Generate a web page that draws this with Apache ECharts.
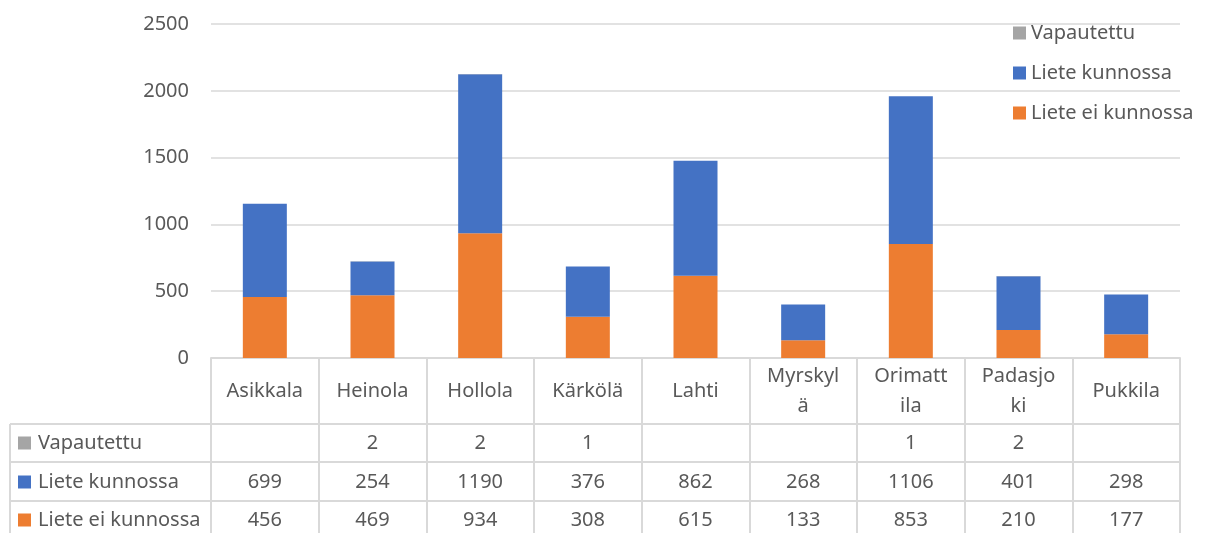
<!DOCTYPE html>
<html>
<head>
<meta charset="utf-8">
<script src="https://cdn.jsdelivr.net/npm/echarts@6/dist/echarts.min.js"></script>
<style>
  html, body { margin: 0; padding: 0; background: #fff; }
  #chart { width: 1211px; height: 533px; }
</style>
</head>
<body>
<div id="chart"></div>
<script>
const cats = ['Asikkala', 'Heinola', 'Hollola', 'Kärkölä', 'Lahti', 'Myrskylä', 'Orimattila', 'Padasjoki', 'Pukkila'];
// otsikkorivin rivitys kuten Excelissä
const headerLabels = ['Asikkala', 'Heinola', 'Hollola', 'Kärkölä', 'Lahti', 'Myrskyl\nä', 'Orimatt\nila', 'Padasjo\nki', 'Pukkila'];
const vapautettu = [null, 2, 2, 1, null, null, 1, 2, null];
const kunnossa = [699, 254, 1190, 376, 862, 268, 1106, 401, 298];
const eiKunnossa = [456, 469, 934, 308, 615, 133, 853, 210, 177];
const yTicks = [0, 500, 1000, 1500, 2000, 2500];

const textColor = '#595959';
const lineColor = '#D9D9D9';
const fontFamily = '"Noto Sans", "Open Sans", sans-serif';

// taulukon rivit ylhäältä alas
const tableRows = [
    { name: 'Vapautettu', color: '#A5A5A5', data: vapautettu },
    { name: 'Liete kunnossa', color: '#4472C4', data: kunnossa },
    { name: 'Liete ei kunnossa', color: '#ED7D31', data: eiKunnossa }
];

const gridLeft = 211, gridRight = 31, gridTop = 24, gridBottom = 175;
const rowLines = [424, 462, 501];   // taulukon vaakaviivat
const rowCenters = [443, 482, 520];
const tableLeft = 10;

let myChart = echarts.init(document.getElementById('chart'));

const option = {
    backgroundColor: '#fff',
    animation: false,
    textStyle: { fontFamily: fontFamily, color: textColor },
    grid: { left: gridLeft, right: gridRight, top: gridTop, bottom: gridBottom },
    legend: {
        data: tableRows.map(r => r.name),
        orient: 'vertical',
        left: 1013,
        top: 23,
        padding: 0,
        itemWidth: 13,
        itemHeight: 13,
        itemGap: 20,
        icon: 'rect',
        textStyle: { fontSize: 20, color: textColor, fontFamily: fontFamily }
    },
    xAxis: {
        type: 'category',
        data: cats,
        axisLine: { lineStyle: { color: lineColor, width: 2 } },
        axisTick: { show: true, interval: 0, length: 175, lineStyle: { color: lineColor, width: 2 } },
        axisLabel: {
            interval: 0,
            margin: 33,
            fontSize: 20,
            color: textColor,
            lineHeight: 30,
            verticalAlign: 'middle',
            formatter: (v, i) => headerLabels[i]
        }
    },
    yAxis: {
        type: 'value',
        min: yTicks[0],
        max: yTicks[yTicks.length - 1],
        interval: 500,
        axisLine: { show: false },
        axisTick: { show: false },
        splitLine: { lineStyle: { color: lineColor, width: 1.5 } },
        axisLabel: { fontSize: 20, color: textColor, margin: 22, formatter: v => String(v) }
    },
    series: [
        { name: 'Liete ei kunnossa', type: 'bar', stack: 'total', barWidth: 44, data: eiKunnossa, itemStyle: { color: '#ED7D31' } },
        { name: 'Liete kunnossa', type: 'bar', stack: 'total', barWidth: 44, data: kunnossa, itemStyle: { color: '#4472C4' } },
        { name: 'Vapautettu', type: 'bar', stack: 'total', barWidth: 44, data: vapautettu, itemStyle: { color: '#A5A5A5' } }
    ]
};

myChart.setOption(option);

// datataulukko kaavion alle
const plotRight = 1211 - gridRight;
const graphic = [];
rowLines.forEach(y => {
    graphic.push({ type: 'line', shape: { x1: tableLeft, y1: y, x2: plotRight, y2: y }, style: { stroke: lineColor, lineWidth: 2 } });
});
graphic.push({ type: 'line', shape: { x1: tableLeft, y1: rowLines[0], x2: tableLeft, y2: 533 }, style: { stroke: lineColor, lineWidth: 2 } });
tableRows.forEach((row, r) => {
    const cy = rowCenters[r];
    graphic.push({ type: 'rect', shape: { x: 18, y: cy - 6.5, width: 13, height: 13 }, style: { fill: row.color } });
    graphic.push({ type: 'text', x: 38, y: cy, style: { text: row.name, fill: textColor, font: '20px ' + fontFamily, verticalAlign: 'middle' } });
    row.data.forEach((v, i) => {
        if (v == null) return;
        const cx = myChart.convertToPixel({ xAxisIndex: 0 }, cats[i]);
        graphic.push({ type: 'text', x: cx, y: cy, style: { text: String(v), fill: textColor, font: '20px ' + fontFamily, align: 'center', verticalAlign: 'middle' } });
    });
});
myChart.setOption({ graphic: graphic });

window.addEventListener('resize', function () {
    myChart.resize();
});
</script>
</body>
</html>
